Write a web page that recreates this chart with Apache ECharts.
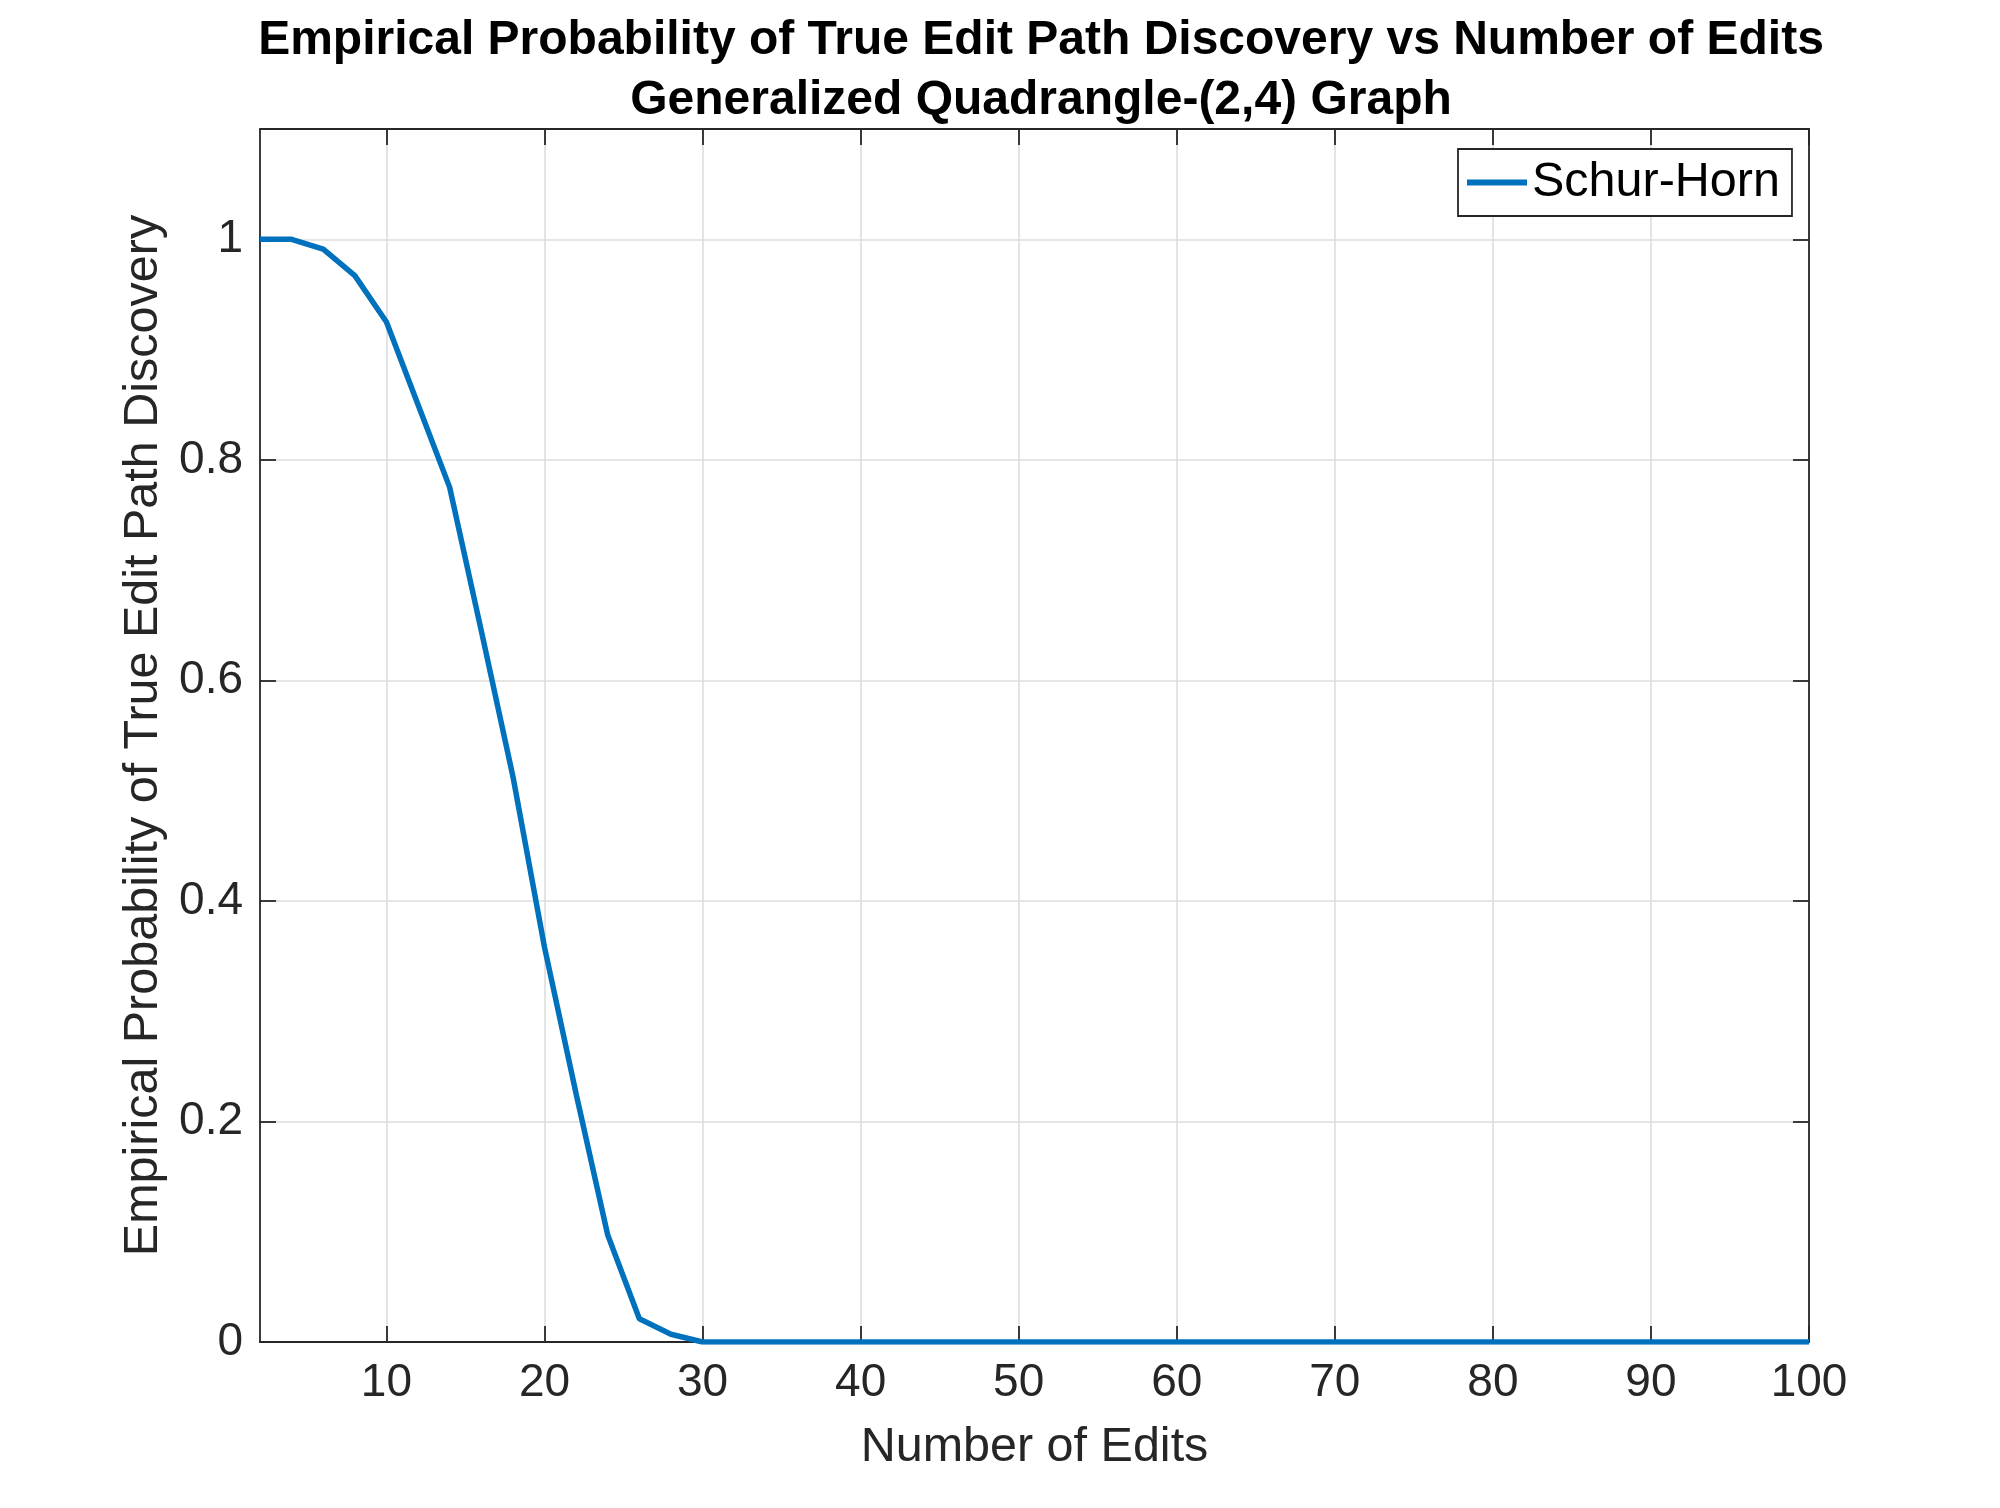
<!DOCTYPE html>
<html>
<head>
<meta charset="utf-8">
<script src="https://cdn.jsdelivr.net/npm/echarts@6/dist/echarts.min.js"></script>
<style>
  html, body { margin: 0; padding: 0; background: #fff; }
  #chart { width: 2000px; height: 1508px; }
</style>
</head>
<body>
<div id="chart"></div>
<script>
// number of edits (x) and empirical probability (y)
const editCounts = [2, 4, 6, 8, 10, 12, 14, 16, 18, 20,
  22, 24, 26, 28, 30, 32, 34, 36, 38, 40,
  42, 44, 46, 48, 50, 52, 54, 56, 58, 60,
  62, 64, 66, 68, 70, 72, 74, 76, 78, 80,
  82, 84, 86, 88, 90, 92, 94, 96, 98, 100]
const schurHorn = [1, 1, 0.991, 0.967, 0.925, 0.85, 0.775, 0.645, 0.513, 0.358,
  0.225, 0.097, 0.021, 0.007, 0, 0, 0, 0, 0, 0,
  0, 0, 0, 0, 0, 0, 0, 0, 0, 0,
  0, 0, 0, 0, 0, 0, 0, 0, 0, 0,
  0, 0, 0, 0, 0, 0, 0, 0, 0, 0]
const xTicks = [10, 20, 30, 40, 50, 60, 70, 80, 90, 100]
const yTicks = [0, 0.2, 0.4, 0.6, 0.8, 1]

const font = 'Liberation Sans, Arial, Helvetica, sans-serif'
const axisColor = '#262626'
const gridColor = '#dedede'
const lineColor = '#0072BD'

const chart = echarts.init(document.getElementById('chart'))

const frameAxis = (position, ticks) => ({
  type: 'value',
  position: position,
  axisLine: { show: true, onZero: false, lineStyle: { color: axisColor, width: 1.8 } },
  axisTick: { show: true, inside: true, length: 16, customValues: ticks, lineStyle: { color: axisColor, width: 1.8 } },
  axisLabel: { show: false },
  splitLine: { show: false }
})

chart.setOption({
  animation: false,
  backgroundColor: '#fff',
  title: {
    text: 'Empirical Probability of True Edit Path Discovery vs Number of Edits\nGeneralized Quadrangle-(2,4) Graph',
    left: 1036,
    top: 6,
    textAlign: 'center',
    textStyle: { fontFamily: font, fontSize: 48, fontWeight: 'bold', color: '#000', lineHeight: 60 }
  },
  legend: {
    data: [{ name: 'Schur-Horn', icon: 'rect' }],
    left: 1458,
    top: 149,
    orient: 'vertical',
    padding: [9, 12, 9, 9],
    itemWidth: 60,
    itemHeight: 6,
    backgroundColor: '#fff',
    borderColor: axisColor,
    borderWidth: 1.8,
    borderRadius: 0,
    itemStyle: { color: lineColor },
    textStyle: { fontFamily: font, fontSize: 48.5, color: '#000' }
  },
  grid: {
    left: 260,
    top: 129,
    width: 1549,
    height: 1213,
    containLabel: false,
    outerBoundsMode: 'none'
  },
  xAxis: [
    {
      type: 'value',
      min: 2,
      max: 100,
      name: 'Number of Edits',
      nameLocation: 'middle',
      nameGap: 81,
      nameTextStyle: { fontFamily: font, fontSize: 48.5, color: axisColor },
      axisLine: { show: true, onZero: false, lineStyle: { color: axisColor, width: 1.8 } },
      axisTick: { show: true, inside: true, length: 16, customValues: xTicks, lineStyle: { color: axisColor, width: 1.8 } },
      axisLabel: { customValues: xTicks, margin: 18, fontFamily: font, fontSize: 46, color: axisColor },
      splitLine: { show: true, customValues: xTicks, lineStyle: { color: gridColor, width: 1.6 } }
    },
    Object.assign(frameAxis('top', xTicks), { min: 2, max: 100 })
  ],
  yAxis: [
    {
      type: 'value',
      min: 0,
      max: 1.1,
      name: 'Empirical Probability of True Edit Path Discovery',
      nameLocation: 'middle',
      nameGap: 90,
      nameTextStyle: { fontFamily: font, fontSize: 48.5, color: axisColor },
      axisLine: { show: true, onZero: false, lineStyle: { color: axisColor, width: 1.8 } },
      axisTick: { show: true, inside: true, length: 16, customValues: yTicks, lineStyle: { color: axisColor, width: 1.8 } },
      axisLabel: { customValues: yTicks, margin: 17, fontFamily: font, fontSize: 46, color: axisColor },
      splitLine: { show: true, customValues: yTicks, lineStyle: { color: gridColor, width: 1.6 } }
    },
    Object.assign(frameAxis('right', yTicks), { min: 0, max: 1.1 })
  ],
  series: [
    {
      name: 'Schur-Horn',
      type: 'line',
      xAxisIndex: 0,
      yAxisIndex: 0,
      symbol: 'none',
      data: editCounts.map((x, i) => [x, schurHorn[i]]),
      lineStyle: { color: lineColor, width: 5.5 },
      itemStyle: { color: lineColor }
    }
  ]
})
</script>
</body>
</html>
